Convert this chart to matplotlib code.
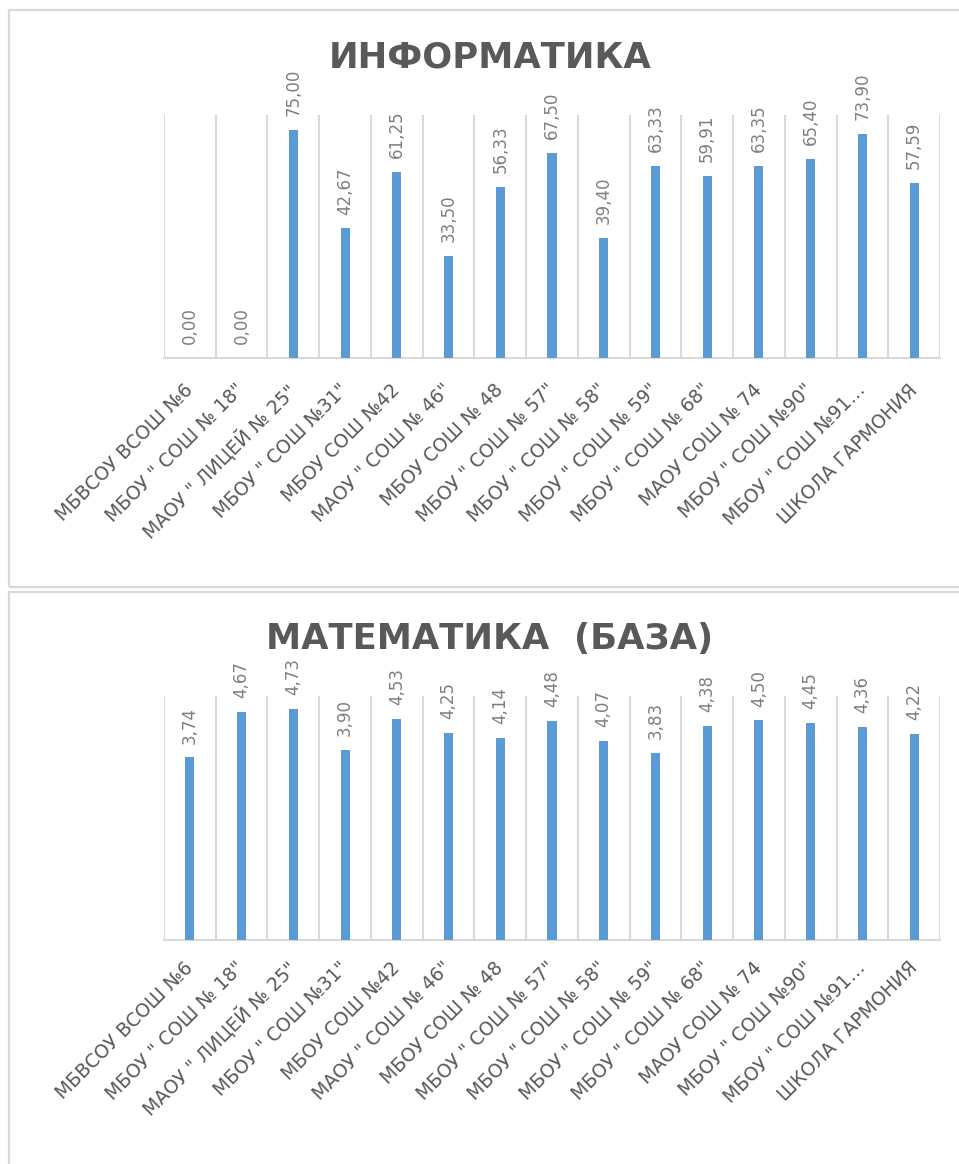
import matplotlib
matplotlib.use("Agg")
import matplotlib.pyplot as plt
from matplotlib.patches import Rectangle
import numpy as np

schools = [
    "МБВСОУ ВСОШ №6",
    'МБОУ " СОШ № 18"',
    'МАОУ " ЛИЦЕЙ № 25"',
    'МБОУ " СОШ №31"',
    "МБОУ СОШ №42",
    'МАОУ " СОШ № 46"',
    "МБОУ СОШ № 48",
    'МБОУ " СОШ № 57"',
    'МБОУ " СОШ № 58"',
    'МБОУ " СОШ № 59"',
    'МБОУ " СОШ № 68"',
    "МАОУ СОШ № 74",
    'МБОУ " СОШ №90"',
    'МБОУ " СОШ №91…',
    "ШКОЛА ГАРМОНИЯ",
]
informatics = [0.00, 0.00, 75.00, 42.67, 61.25, 33.50, 56.33, 67.50,
               39.40, 63.33, 59.91, 63.35, 65.40, 73.90, 57.59]
math_base = [3.74, 4.67, 4.73, 3.90, 4.53, 4.25, 4.14, 4.48,
             4.07, 3.83, 4.38, 4.50, 4.45, 4.36, 4.22]

W, H = 959, 1164
BAR = "#5b9bd5"
GRID = "#d9d9d9"
TXT = "#595959"
LBL = "#7f7f7f"

plt.rcParams["font.family"] = ["DejaVu Sans"]

fig = plt.figure(figsize=(W / 100, H / 100), dpi=100)


def px_rect(x0, y0, x1, y1):
    # pixel box (top-left origin) -> figure fraction [l, b, w, h]
    return [x0 / W, 1 - y1 / H, (x1 - x0) / W, (y1 - y0) / H]


def draw_panel(box, values, ymax, title, title_y, pad):
    ax = fig.add_axes(px_rect(*box))
    x = np.arange(len(values))
    ax.bar(x, values, width=0.175, color=BAR, zorder=3)
    ax.set_xlim(-0.5, len(values) - 0.5)
    ax.set_ylim(0, ymax)
    ax.set_yticks([])
    for s in ["top", "left", "right"]:
        ax.spines[s].set_visible(False)
    ax.spines["bottom"].set_color(GRID)
    ax.spines["bottom"].set_linewidth(1.5)
    ax.set_xticks(np.arange(-0.5, len(values), 1.0), minor=True)
    ax.grid(True, which="minor", axis="x", color=GRID, linewidth=1.5, zorder=0)
    ax.tick_params(axis="x", which="both", length=0)
    ax.set_xticks(x)
    ax.set_xticklabels(schools, rotation=45, ha="right", va="center",
                       rotation_mode="anchor", fontsize=13.5, color=TXT)
    ax.tick_params(axis="x", which="major", pad=pad)
    for xi, v in zip(x, values):
        ax.annotate(f"{v:.2f}".replace(".", ","), (xi, v),
                    xytext=(0, 10), textcoords="offset points",
                    rotation=90, ha="center", va="bottom",
                    fontsize=12, color=LBL)
    fig.text(490 / W, 1 - title_y / H, title, ha="center", va="center",
             fontsize=25.5, fontweight="bold", color=TXT)
    return ax


# chart frames
for y0, y1 in [(10, 587), (592, 1180)]:
    l, b, w, h = px_rect(9, y0, 975, y1)
    fig.add_artist(Rectangle((l, b), w, h, transform=fig.transFigure,
                             fill=False, edgecolor=GRID, linewidth=1.6))

draw_panel((164, 115, 940, 358), informatics, 80, "ИНФОРМАТИКА", 58, 21)
draw_panel((164, 696, 940, 940), math_base, 5, "МАТЕМАТИКА  (БАЗА)", 639, 18)

fig.savefig("out.png", dpi=100)
